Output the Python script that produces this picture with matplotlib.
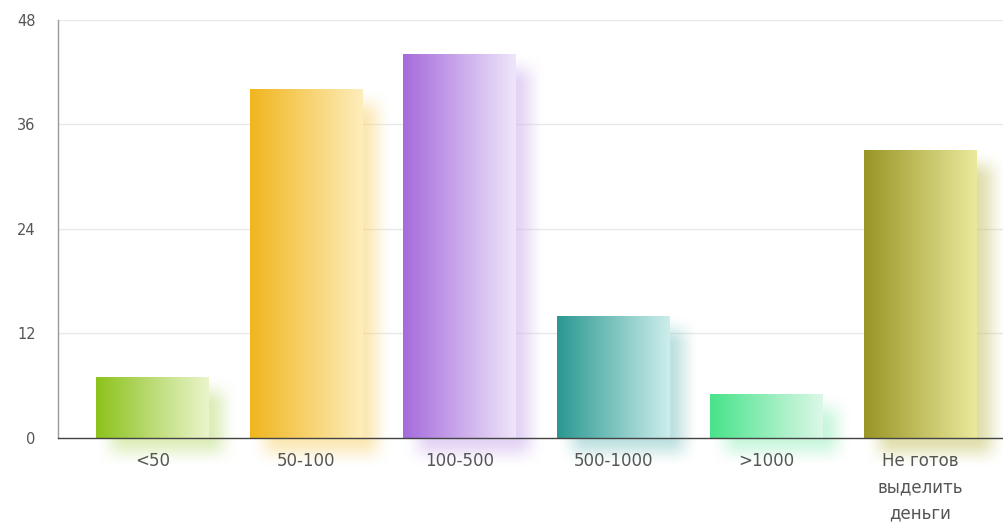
import numpy as np
import matplotlib
matplotlib.use("Agg")
import matplotlib.pyplot as plt
from matplotlib.colors import to_rgb

categories = ["<50", "50-100", "100-500", "500-1000", ">1000", "Не готов\nвыделить\nденьги"]
values = [7, 40, 44, 14, 5, 33]
left_colors = ["#8cc21c", "#f1b51e", "#a56bdc", "#2a9891", "#48e38a", "#999526"]
right_colors = ["#eaf5cc", "#fdeebb", "#efe6fa", "#cdeeec", "#dcf8e8", "#ebea9c"]
yticks = [0, 12, 24, 36, 48]

fig = plt.figure(figsize=(10.04, 5.28), dpi=100)
ax = fig.add_axes([0.0578, 0.1705, 0.942, 0.7917])
ax.set_xlim(-0.615, 5.545)
ax.set_ylim(0, 48)

bar_w = 0.735
# pixel -> data scale for the shadow offset
px_x = 6.16 / 946.0
px_y = 48 / 418.0


def blur1d(a, r, axis):
    k = np.ones(2 * r + 1) / (2 * r + 1)
    return np.apply_along_axis(lambda m: np.convolve(m, k, mode="same"), axis, a)


for i, (v, c0, c1) in enumerate(zip(values, left_colors, right_colors)):
    x0 = i - bar_w / 2
    x1 = i + bar_w / 2
    # soft shadow, shifted right and down
    off, margin, r = 15, 26, 10
    wpx = int(bar_w / px_x)
    hpx = int(v / px_y)
    W = wpx + 2 * margin
    H = hpx + 2 * margin
    mask = np.zeros((H, W))
    mask[margin:margin + hpx, margin:margin + wpx] = 1.0
    mask = blur1d(blur1d(mask, r, 0), r, 1)
    mask = blur1d(blur1d(mask, r // 2, 0), r // 2, 1)
    sc = np.array(to_rgb(c0)) * 0.45 + np.array(to_rgb(c1)) * 0.55
    img = np.zeros((H, W, 4))
    img[..., :3] = sc
    img[..., 3] = mask * 0.55
    sx0 = x0 + (off - margin) * px_x
    sx1 = sx0 + W * px_x
    sy1 = v - (off - margin) * px_y
    sy0 = sy1 - H * px_y
    ax.imshow(img, extent=[sx0, sx1, sy0, sy1], aspect="auto", zorder=1,
              clip_on=False, interpolation="bilinear")

    # horizontal gradient bar
    t = np.linspace(0, 1, 256)[None, :, None]
    grad = np.array(to_rgb(c0))[None, None, :] * (1 - t) + np.array(to_rgb(c1))[None, None, :] * t
    ax.imshow(grad, extent=[x0, x1, 0, v], aspect="auto", zorder=2,
              interpolation="bilinear")

ax.set_xlim(-0.615, 5.545)
ax.set_ylim(0, 48)

ax.set_yticks(yticks)
ax.set_xticks(range(len(categories)))
ax.set_xticklabels(categories, linespacing=1.6, va="top")
ax.tick_params(axis="both", length=0, labelcolor="#555555")
ax.tick_params(axis="y", pad=16, labelsize=10.5)
ax.tick_params(axis="x", pad=10, labelsize=12)

for y in yticks[1:]:
    ax.axhline(y, color="#e8e8e8", lw=1, zorder=0)

for s in ["top", "right"]:
    ax.spines[s].set_visible(False)
ax.spines["left"].set_color("#999999")
ax.spines["left"].set_linewidth(1)
ax.spines["bottom"].set_color("#444444")
ax.spines["bottom"].set_linewidth(1)
ax.spines["bottom"].set_zorder(5)

fig.savefig("out.png", dpi=100)
